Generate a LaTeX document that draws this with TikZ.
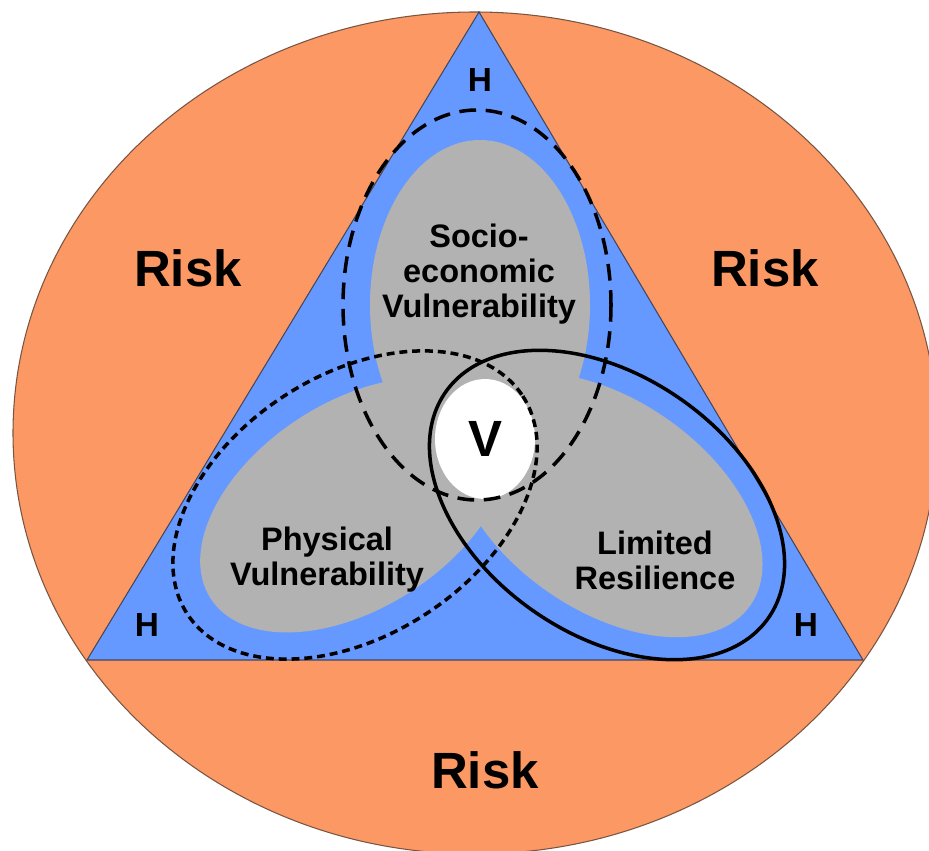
\documentclass[tikz,border=0pt]{standalone}
\usepackage{fontspec}
\setmainfont{Liberation Sans}
\usetikzlibrary{positioning, shapes.geometric}

\definecolor{riskorange}{RGB}{252,152,99}
\definecolor{riskedge}{RGB}{120,85,65}
\definecolor{hazardblue}{RGB}{102,153,255}
\definecolor{hazardedge}{RGB}{70,70,90}
\definecolor{vulngray}{RGB}{178,178,178}

\begin{document}
\begin{tikzpicture}[
    x=0.02cm, y=-0.02cm,
    on grid,
    risklabel/.style={font=\bfseries\fontsize{29}{34}\selectfont},
    hlabel/.style={font=\bfseries\fontsize{19}{22}\selectfont},
    lobelabel/.style={align=center, font=\bfseries\fontsize{18.5}{20}\selectfont},
    core/.style={ellipse, fill=white, minimum width=2cm, minimum height=2.4cm, inner sep=0pt,
                 font=\bfseries\fontsize{29}{34}\selectfont},
    lobe/.style={fill=vulngray},
    outline/.style={draw=black, line width=2pt},
    socioline/.style={outline, dash pattern=on 9.5pt off 5.5pt},
    physline/.style={outline, dash pattern=on 4.5pt off 2.8pt},
    resline/.style={outline}
]
\useasboundingbox (0,0) rectangle (929,851);

% Risk disc
\begin{scope}
  \clip (0,0) rectangle (929,851);
  \filldraw[fill=riskorange, draw=riskedge, line width=0.6pt] (475,433) ellipse [x radius=462, y radius=421];
\end{scope}

% Hazard triangle
\coordinate (apex) at (479,12);
\coordinate (left) at (87,660);
\coordinate (right) at (863,660);
\filldraw[fill=hazardblue, draw=hazardedge, line width=0.6pt] (apex) -- (left) -- (right) -- cycle;

% Vulnerability lobes
\fill[lobe] (480,305) ellipse [x radius=110, y radius=165];
\fill[lobe, rotate around={33:(355,505)}] (355,505) ellipse [x radius=172, y radius=103];
\fill[lobe, rotate around={-35:(607,505)}] (607,505) ellipse [x radius=175, y radius=105];

% Core
\node[core] (vcore) at (485,439) {V};

% Outlines
\draw[socioline] (477,305) ellipse [x radius=134, y radius=195];
\draw[physline, rotate around={33:(355,505)}] (355,505) ellipse [x radius=200, y radius=130];
\draw[resline, rotate around={-35:(607,505)}] (607,505) ellipse [x radius=197, y radius=129];

% Lobe labels
\node[lobelabel, above left=3.3cm and 0.12cm of vcore] (socio) {Socio-\\economic\\Vulnerability};
\node[lobelabel, below left=2.42cm and 3.16cm of vcore] (phys) {Physical\\Vulnerability};
\node[lobelabel, below right=2.42cm and 3.4cm of vcore] (res) {Limited\\Resilience};

% Hazard corners
\node[hlabel] (htop) at (480,80) {H};
\node[hlabel] (hleft) at (147,625) {H};
\node[hlabel] (hright) at (806,625) {H};

% Risk
\node[risklabel] (riskL) at (188,268) {Risk};
\node[risklabel, right=11.54cm of riskL] (riskR) {Risk};
\node[risklabel, below right=10.04cm and 5.94cm of riskL] (riskB) {Risk};

\end{tikzpicture}
\end{document}
